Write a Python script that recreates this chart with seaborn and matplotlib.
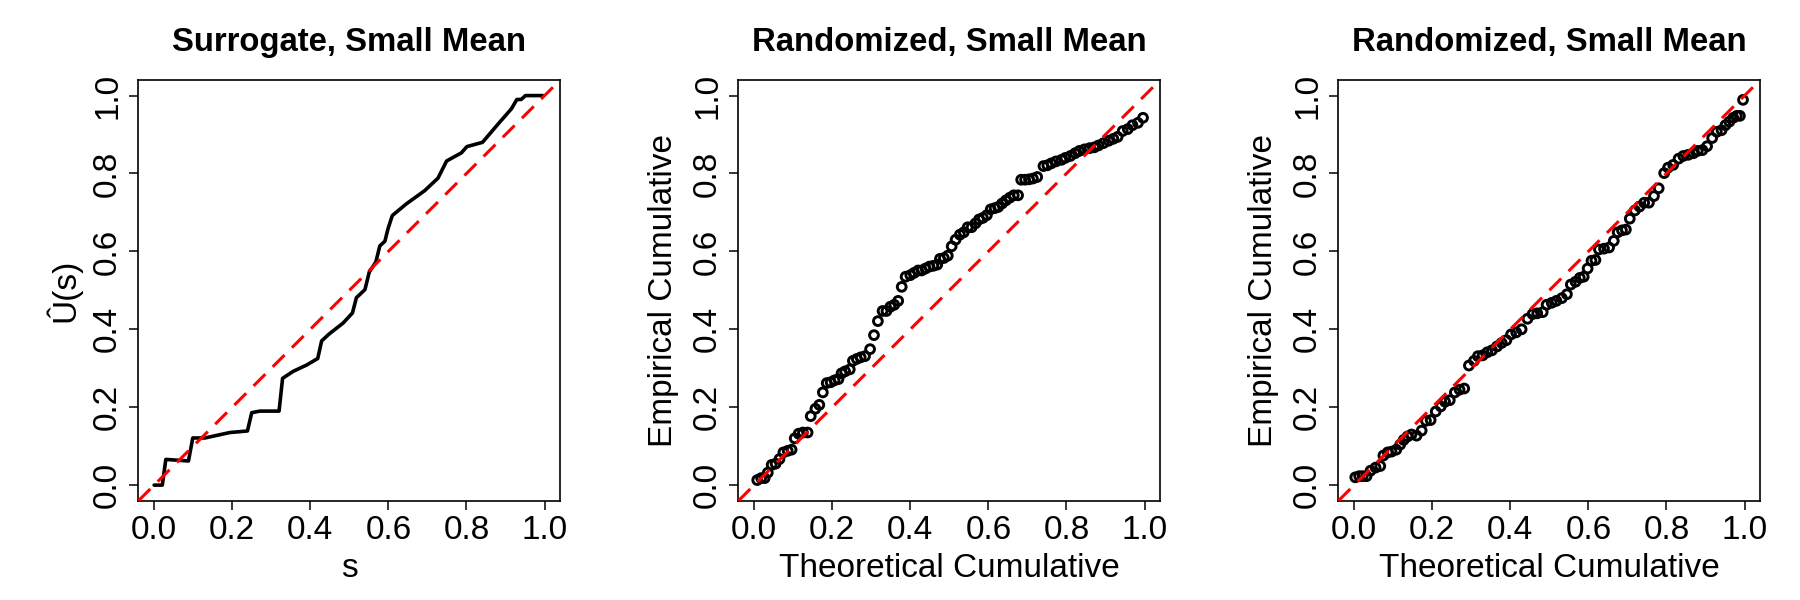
import numpy as np
import pandas as pd
import matplotlib
matplotlib.use("Agg")
import matplotlib.pyplot as plt
import seaborn as sns

# ---------------- data ----------------
titles = ["Surrogate, Small Mean", "Randomized, Small Mean", "Randomized, Small Mean"]
xlabels = ["s", "Theoretical Cumulative", "Theoretical Cumulative"]
ylabels = ["Û(s)", "Empirical Cumulative", "Empirical Cumulative"]
tick_values = [0.0, 0.2, 0.4, 0.6, 0.8, 1.0]
tick_labels = ["0.0", "0.2", "0.4", "0.6", "0.8", "1.0"]

surrogate_s = [0.0, 0.021, 0.030, 0.088, 0.099, 0.130, 0.194, 0.239, 0.250, 0.271,
               0.320, 0.329, 0.356, 0.390, 0.419, 0.429, 0.447, 0.484, 0.508, 0.518,
               0.540, 0.551, 0.568, 0.578, 0.591, 0.599, 0.610, 0.646, 0.693, 0.727,
               0.749, 0.787, 0.801, 0.841, 0.881, 0.915, 0.929, 0.940, 0.951, 0.996]
surrogate_u = [0.0, 0.0, 0.066, 0.062, 0.121, 0.121, 0.135, 0.139, 0.186, 0.190,
               0.190, 0.274, 0.292, 0.308, 0.325, 0.370, 0.387, 0.416, 0.442, 0.481,
               0.502, 0.547, 0.573, 0.614, 0.626, 0.658, 0.692, 0.722, 0.756, 0.788,
               0.832, 0.853, 0.869, 0.880, 0.927, 0.966, 0.990, 0.990, 1.0, 1.0]

rand1_theoretical = [0.008, 0.018, 0.027, 0.035, 0.045, 0.055, 0.065, 0.075, 0.086, 0.096,
                     0.104, 0.114, 0.125, 0.137, 0.145, 0.157, 0.167, 0.176, 0.186, 0.196,
                     0.206, 0.216, 0.224, 0.233, 0.245, 0.253, 0.263, 0.273, 0.284, 0.297,
                     0.307, 0.317, 0.329, 0.339, 0.349, 0.359, 0.369, 0.378, 0.388, 0.400,
                     0.410, 0.420, 0.429, 0.439, 0.449, 0.459, 0.469, 0.476, 0.486, 0.496,
                     0.506, 0.516, 0.527, 0.537, 0.547, 0.557, 0.567, 0.576, 0.586, 0.596,
                     0.606, 0.616, 0.625, 0.635, 0.645, 0.655, 0.665, 0.676, 0.684, 0.694,
                     0.704, 0.714, 0.725, 0.741, 0.751, 0.761, 0.773, 0.787, 0.797, 0.810,
                     0.822, 0.833, 0.846, 0.859, 0.871, 0.882, 0.895, 0.908, 0.920, 0.931,
                     0.944, 0.957, 0.969, 0.983, 0.996]
rand1_empirical = [0.013, 0.018, 0.018, 0.032, 0.052, 0.055, 0.067, 0.084, 0.088, 0.091,
                   0.120, 0.132, 0.135, 0.135, 0.177, 0.196, 0.206, 0.238, 0.262, 0.264,
                   0.269, 0.272, 0.287, 0.292, 0.297, 0.319, 0.324, 0.328, 0.331, 0.349,
                   0.385, 0.421, 0.447, 0.447, 0.458, 0.463, 0.473, 0.509, 0.535, 0.539,
                   0.545, 0.551, 0.551, 0.556, 0.561, 0.563, 0.566, 0.581, 0.583, 0.589,
                   0.613, 0.630, 0.643, 0.649, 0.662, 0.662, 0.672, 0.682, 0.686, 0.693,
                   0.708, 0.711, 0.714, 0.723, 0.731, 0.738, 0.744, 0.744, 0.784, 0.784,
                   0.785, 0.787, 0.791, 0.819, 0.821, 0.826, 0.831, 0.835, 0.840, 0.845,
                   0.852, 0.858, 0.862, 0.865, 0.867, 0.872, 0.878, 0.884, 0.889, 0.894,
                   0.909, 0.914, 0.924, 0.930, 0.943]

rand2_theoretical = [0.003, 0.013, 0.022, 0.032, 0.042, 0.055, 0.067, 0.075, 0.086, 0.096,
                     0.108, 0.118, 0.127, 0.137, 0.147, 0.160, 0.173, 0.184, 0.196, 0.209,
                     0.222, 0.233, 0.245, 0.258, 0.270, 0.282, 0.294, 0.307, 0.317, 0.329,
                     0.341, 0.353, 0.366, 0.378, 0.390, 0.402, 0.415, 0.429, 0.444, 0.457,
                     0.469, 0.483, 0.493, 0.506, 0.518, 0.532, 0.545, 0.555, 0.567, 0.578,
                     0.588, 0.598, 0.608, 0.618, 0.627, 0.640, 0.653, 0.665, 0.675, 0.686,
                     0.696, 0.706, 0.719, 0.731, 0.743, 0.755, 0.768, 0.780, 0.794, 0.804,
                     0.817, 0.831, 0.843, 0.856, 0.869, 0.880, 0.892, 0.904, 0.917, 0.929,
                     0.941, 0.951, 0.961, 0.971, 0.980, 0.988, 0.996]
rand2_empirical = [0.020, 0.023, 0.023, 0.023, 0.037, 0.045, 0.049, 0.076, 0.084, 0.086,
                   0.091, 0.104, 0.116, 0.125, 0.130, 0.127, 0.140, 0.165, 0.167, 0.189,
                   0.202, 0.214, 0.218, 0.238, 0.245, 0.248, 0.307, 0.319, 0.331, 0.333,
                   0.341, 0.346, 0.356, 0.365, 0.372, 0.387, 0.392, 0.400, 0.427, 0.439,
                   0.441, 0.444, 0.463, 0.468, 0.473, 0.480, 0.490, 0.515, 0.522, 0.532,
                   0.535, 0.556, 0.576, 0.578, 0.605, 0.607, 0.610, 0.627, 0.649, 0.654,
                   0.656, 0.684, 0.705, 0.715, 0.725, 0.725, 0.742, 0.762, 0.801, 0.815,
                   0.822, 0.838, 0.845, 0.848, 0.852, 0.858, 0.860, 0.870, 0.891, 0.907,
                   0.911, 0.924, 0.933, 0.943, 0.948, 0.948, 0.989]

# ---------------- style ----------------
sns.set_theme(style="ticks")
plt.rcParams["font.family"] = ["Liberation Sans", "DejaVu Sans"]
plt.rcParams["lines.scale_dashes"] = False

FS = 24
FS_TITLE = 23.7
fig = plt.figure(figsize=(18, 6), dpi=100)

panels = [
    ("line", pd.DataFrame({"x": surrogate_s, "y": surrogate_u})),
    ("points", pd.DataFrame({"x": rand1_theoretical, "y": rand1_empirical})),
    ("points", pd.DataFrame({"x": rand2_theoretical, "y": rand2_empirical})),
]

for i, (kind, df) in enumerate(panels):
    ax = fig.add_axes([0.07694 + i / 3.0, 0.1655, 0.23428, 0.70117])
    if kind == "line":
        sns.lineplot(data=df, x="x", y="y", sort=False, estimator=None,
                     color="black", linewidth=2.6, ax=ax)
    else:
        sns.scatterplot(data=df, x="x", y="y", color="none", edgecolor="black",
                        linewidth=2.1, s=40, marker="o", ax=ax)
    ax.axline((0, 0), slope=1, color="#ff0000", linewidth=2.2, dashes=(12, 7.5),
              zorder=5)
    ax.set_xlim(-0.04, 1.04)
    ax.set_ylim(-0.04, 1.04)
    ax.set_xticks(tick_values)
    ax.set_xticklabels(tick_labels)
    ax.set_yticks(tick_values)
    ax.set_yticklabels(tick_labels)
    ax.tick_params(axis="both", direction="out", length=6.5, width=1.1,
                   colors="black", labelsize=FS)
    ax.tick_params(axis="x", pad=3.5)
    ax.tick_params(axis="y", pad=4.5, labelrotation=90)
    for lab in ax.get_yticklabels():
        lab.set_verticalalignment("center")
    for sp in ax.spines.values():
        sp.set_visible(True)
        sp.set_linewidth(1.2)
        sp.set_color("black")
    ax.set_xlabel(xlabels[i], fontsize=FS, color="black")
    ax.set_ylabel(ylabels[i], fontsize=FS, color="black")
    ax.xaxis.set_label_coords(0.5, -0.16)
    ax.xaxis.label.set_verticalalignment("center")
    ax.yaxis.set_label_coords(-0.178, 0.5)
    ax.yaxis.label.set_verticalalignment("center")
    ax.set_title(titles[i], fontsize=FS_TITLE, fontweight="bold", y=1.09,
                 va="center", pad=0, color="black")
    ax.grid(False)

fig.savefig("out.png", dpi=100, facecolor="white")
